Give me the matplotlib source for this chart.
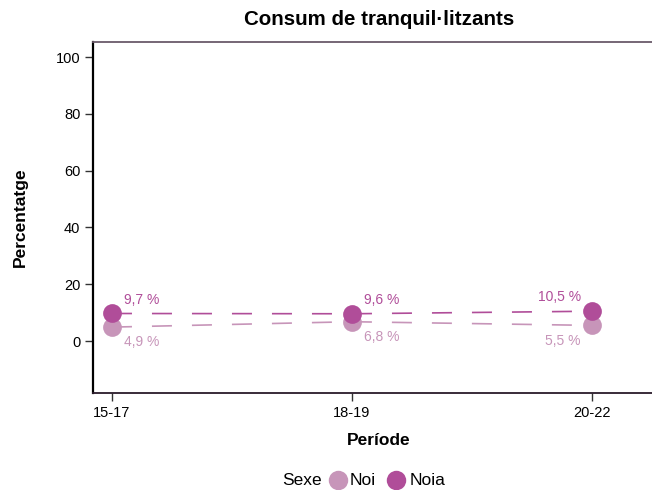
import matplotlib
matplotlib.use("Agg")
import matplotlib.pyplot as plt
from matplotlib.lines import Line2D

plt.rcParams['font.family'] = ['Liberation Sans', 'DejaVu Sans']

# Data
periods = ["15-17", "18-19", "20-22"]
noi = [4.9, 6.8, 5.5]
noia = [9.7, 9.6, 10.5]
noi_labels = ["4,9 %", "6,8 %", "5,5 %"]
noia_labels = ["9,7 %", "9,6 %", "10,5 %"]
y_ticks = [0, 20, 40, 60, 80, 100]
legend_title = "Sexe"
legend_names = ["Noi", "Noia"]

c_noi = "#c795b9"
c_noia = "#b04d99"

fig = plt.figure(figsize=(6.52, 4.9), dpi=100)
ax = fig.add_axes([93 / 652, 97 / 490, 572 / 652, 351 / 490])

x = list(range(len(periods)))

ax.plot(x, noi, color=c_noi, lw=1.2, dashes=(12, 12), zorder=2)
ax.plot(x, noia, color=c_noia, lw=1.2, dashes=(12, 12), zorder=2)
ax.plot(x, noi, 'o', color=c_noi, ms=13.5, mec='none', zorder=3)
ax.plot(x, noia, 'o', color=c_noia, ms=13.5, mec='none', zorder=4)

for i in x:
    if i < len(x) - 1:
        ha, dx = 'left', 9
    else:
        ha, dx = 'right', -8
    ax.annotate(noia_labels[i], (i, noia[i]), xytext=(dx, 5), textcoords='offset points',
                ha=ha, va='bottom', color=c_noia, fontsize=10)
    ax.annotate(noi_labels[i], (i, noi[i]), xytext=(dx, -6), textcoords='offset points',
                ha=ha, va='top', color=c_noi, fontsize=10)

ax.set_xlim(-0.079, 2.304)
ax.set_ylim(-18.3, 105.3)
ax.set_xticks(x)
ax.set_xticklabels(periods)
ax.set_yticks(y_ticks)
ax.tick_params(axis='both', labelsize=10.5, length=6, width=1, color='#333333', pad=3)

ax.spines['right'].set_visible(False)
ax.spines['left'].set_color('#000000')
ax.spines['left'].set_linewidth(1.6)
ax.spines['bottom'].set_color('#2a1a2a')
ax.spines['bottom'].set_linewidth(1.3)
ax.spines['top'].set_color('#6a5a6a')
ax.spines['top'].set_linewidth(1.3)

ax.set_title("Consum de tranquil·litzants", fontsize=14.8, fontweight='bold', pad=12)
ax.set_xlabel("Període", fontsize=12.5, fontweight='bold', labelpad=10)
ax.set_ylabel("Percentatge", fontsize=12.5, fontweight='bold', labelpad=20)

# Legend row along the bottom: title followed by the two series
ly = 1 - 480 / 490
fig.text(302 / 652, ly, legend_title, ha='center', va='center', fontsize=12.5)
for cx, tx, col, name in [(338, 350, c_noi, legend_names[0]), (396, 410, c_noia, legend_names[1])]:
    fig.add_artist(Line2D([cx / 652], [ly], transform=fig.transFigure, marker='o', ls='none',
                          color=col, ms=14, mec='none'))
    fig.text(tx / 652, ly, name, ha='left', va='center', fontsize=12.5)

fig.savefig("out.png", dpi=100)
